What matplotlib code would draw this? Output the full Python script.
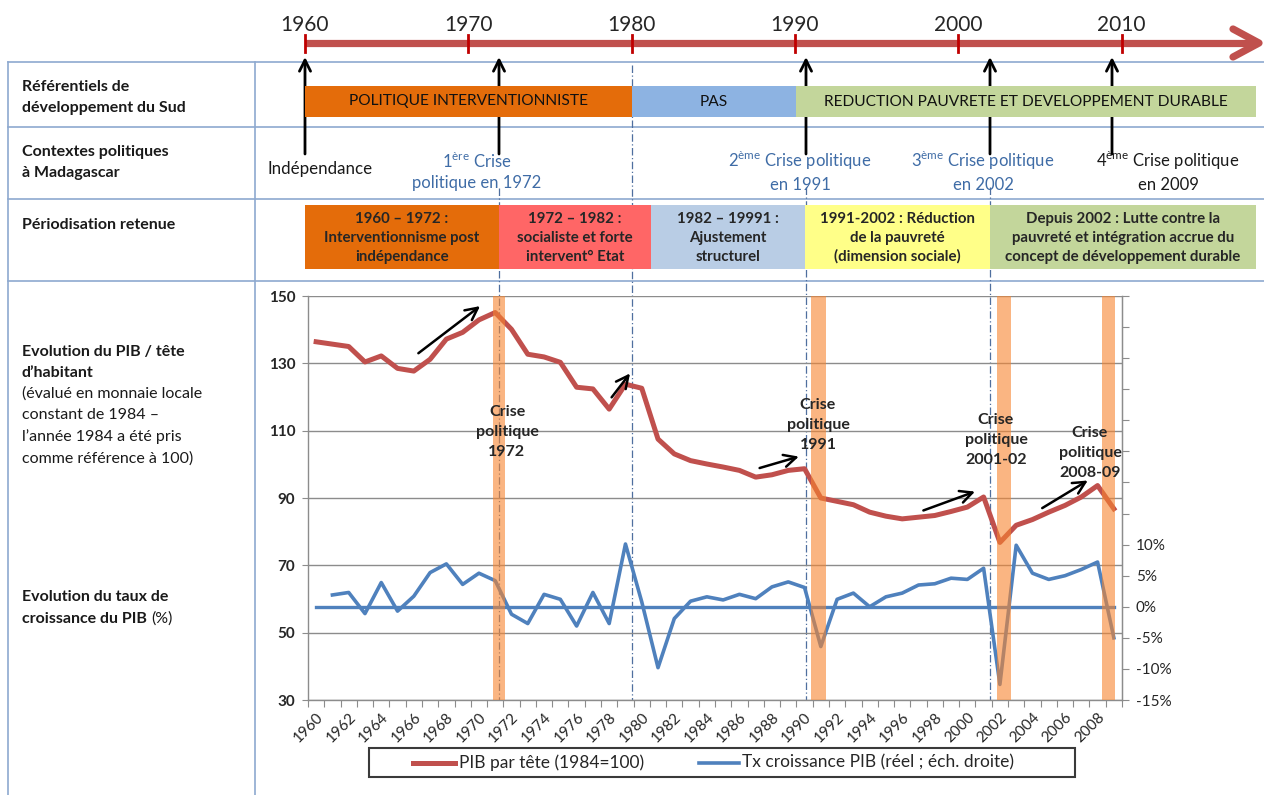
import numpy as np
import matplotlib
matplotlib.use('Agg')
import matplotlib.pyplot as plt
from matplotlib.patches import Rectangle
from matplotlib.ticker import FixedLocator, FuncFormatter, NullFormatter

plt.rcParams['font.family'] = ['Lato', 'DejaVu Sans']

# ---------------- data ----------------
years = list(range(1960, 2010))
pib_par_tete = [136.4, 135.7, 135.0, 130.4, 132.2, 128.5, 127.7, 131.2, 137.2, 139.2,
                142.9, 145.1, 140.1, 132.7, 131.9, 130.3, 122.9, 122.4, 116.4, 123.8,
                122.6, 107.5, 103.1, 101.1, 100.1, 99.2, 98.2, 96.2, 96.9, 98.2,
                98.7, 90.0, 89.0, 88.0, 85.8, 84.6, 83.8, 84.3, 84.8, 86.0,
                87.3, 90.3, 76.8, 81.9, 83.6, 85.8, 87.8, 90.3, 93.7, 86.8]
croissance = [np.nan, 1.9, 2.3, -1.1, 3.9, -0.7, 1.7, 5.5, 6.9, 3.6,
              5.4, 4.2, -1.2, -2.7, 2.0, 1.2, -3.1, 2.3, -2.7, 10.1,
              0.8, -9.8, -1.9, 0.9, 1.6, 1.1, 2.0, 1.3, 3.2, 4.0,
              3.1, -6.4, 1.2, 2.2, 0.0, 1.6, 2.2, 3.5, 3.7, 4.6,
              4.4, 6.2, -12.5, 9.9, 5.4, 4.4, 5.0, 6.0, 7.2, -5.0]
zero_line = [0.0] * len(years)

timeline_years = [1960, 1970, 1980, 1990, 2000, 2010]
crise_spans = [(1970.85, 1971.6), (1990.37, 1991.3), (2001.8, 2002.7), (2008.3, 2009.1)]
crise_labels = ["Crise\npolitique\n1972", "Crise\npolitique\n1991",
                "Crise\npolitique\n2001-02", "Crise\npolitique\n2008-09"]

referentiels = ["POLITIQUE INTERVENTIONNISTE", "PAS",
                "REDUCTION PAUVRETE ET DEVELOPPEMENT DURABLE"]
periodes = ["1960 – 1972 :\nInterventionnisme post\nindépendance",
            "1972 – 1982 :\nsocialiste et forte\nintervent° Etat",
            "1982 – 19991 :\nAjustement\nstructurel",
            "1991-2002 : Réduction\nde la pauvreté\n(dimension sociale)",
            "Depuis 2002 : Lutte contre la\npauvreté et intégration accrue du\nconcept de développement durable"]

W, H = 1264, 795
fig = plt.figure(figsize=(W / 100, H / 100), dpi=100)
bg = fig.add_axes([0, 0, 1, 1])
bg.set_xlim(0, W)
bg.set_ylim(H, 0)
bg.axis('off')

def tl(y):
    return 305 + (y - 1960) * 16.33

RED = '#C0504D'
BLUE = '#4F81BD'
TXT = '#1A1A1A'
LINEC = '#8EA9CF'
CBLUE = '#3F6CA6'

# ---------------- timeline ----------------
bg.plot([tl(1960), 1258], [43, 43], color=RED, lw=5.2, solid_capstyle='butt', zorder=2)
bg.plot([1233, 1259, 1233], [29, 43, 57], color=RED, lw=5.2,
        solid_capstyle='round', solid_joinstyle='round', zorder=2)
for y in timeline_years:
    bg.plot([tl(y), tl(y)], [35, 52], color='#C00000', lw=2, zorder=3)
    bg.text(tl(y), 25, str(y), ha='center', va='center', fontsize=15, color='#262626')

# ---------------- table lines ----------------
for yy in [62, 127, 199, 281]:
    bg.plot([8, W], [yy, yy], color=LINEC, lw=1.2, zorder=1)
for xx in [8, 255]:
    bg.plot([xx, xx], [62, H], color=LINEC, lw=1.2, zorder=1)

# left column (one text per line)
left_lines = [
    ("Référentiels de", 87, 'bold'), ("développement du Sud", 108, 'bold'),
    ("Contextes politiques", 152, 'bold'), ("à Madagascar", 173, 'bold'),
    ("Périodisation retenue", 225, 'bold'),
    ("Evolution du PIB / tête", 352, 'bold'), ("d’habitant", 373, 'bold'),
    ("(évalué en monnaie locale", 394, 'normal'), ("constant de 1984 –", 415, 'normal'),
    ("l’année 1984 a été pris", 437, 'normal'), ("comme référence à 100)", 459, 'normal'),
    ("Evolution du taux de", 597, 'bold'),
]
for s, yy, wt in left_lines:
    bg.text(22, yy, s, ha='left', va='center', fontsize=11.5, fontweight=wt, color=TXT)
t2 = bg.text(22, 619, "croissance du PIB ", ha='left', va='center',
             fontsize=11.5, fontweight='bold', color=TXT)
bg.annotate("(%)", xy=(1, 0.5), xycoords=t2, ha='left', va='center',
            fontsize=11.5, color=TXT)

# dashed vertical guides
for xx, y0 in [(499, 188), (632, 65), (806, 187), (990, 187)]:
    bg.plot([xx, xx], [y0, 700], color='#4F6F9F', lw=0.9,
            ls=(0, (6, 2, 1, 2)), zorder=1)

# up arrows
for xx in [305, 499, 806, 990, 1112]:
    bg.annotate('', xy=(xx, 57), xytext=(xx, 154),
                arrowprops=dict(arrowstyle='->', lw=2, color='black',
                                mutation_scale=20, shrinkA=0, shrinkB=0), zorder=2)

# row 1 bands
row1 = [(305, 632, '#E46C0A'), (632, 796, '#8DB3E2'), (796, 1256, '#C3D69B')]
for (x0, x1, c), lab in zip(row1, referentiels):
    bg.add_patch(Rectangle((x0, 86), x1 - x0, 31, facecolor=c, edgecolor='none', zorder=4))
    bg.text((x0 + x1) / 2, 101.5, lab, ha='center', va='center', fontsize=11.2,
            color='#111111', zorder=5)

# row 2 texts
bg.text(320, 169, "Indépendance", ha='center', va='center', fontsize=12.2, color=TXT)
bg.text(477, 171, "1$^{\\mathregular{ère}}$ Crise\npolitique en 1972", ha='center', va='center',
        fontsize=12, color=CBLUE, linespacing=1.35, multialignment='center')
bg.text(800, 171, "2$^{\\mathregular{ème}}$ Crise politique\nen 1991", ha='center', va='center',
        fontsize=12, color=CBLUE, linespacing=1.35, multialignment='center')
bg.text(983, 171, "3$^{\\mathregular{ème}}$ Crise politique\nen 2002", ha='center', va='center',
        fontsize=12, color=CBLUE, linespacing=1.35, multialignment='center')
bg.text(1168, 171, "4$^{\\mathregular{ème}}$ Crise politique\nen 2009", ha='center', va='center',
        fontsize=12, color=TXT, linespacing=1.35, multialignment='center')

# row 3 bands
row3 = [(305, 499, '#E46C0A'), (499, 651, '#FF6666'), (651, 805, '#B9CDE5'),
        (805, 990, '#FFFF88'), (990, 1256, '#C3D69B')]
for (x0, x1, c), lab in zip(row3, periodes):
    bg.add_patch(Rectangle((x0, 205), x1 - x0, 64, facecolor=c, edgecolor='none', zorder=4))
    bg.text((x0 + x1) / 2, 238, lab, ha='center', va='center', fontsize=10.8,
            fontweight='bold', color='#262626', linespacing=1.42, zorder=5,
            multialignment='center')

# ---------------- chart ----------------
ax = fig.add_axes([308 / W, 1 - 700 / H, (1122 - 308) / W, (700 - 296) / H])
ax.set_facecolor('none')
x = np.arange(len(years))
ax.plot(x, pib_par_tete, color=RED, lw=3.6, solid_joinstyle='round', zorder=3)
ax.set_xlim(-0.5, len(years) - 0.5)
ax.set_ylim(30, 150)
ax.set_yticks(np.arange(30, 151, 20))
ax.yaxis.grid(True, color='#8C8C8C', lw=1)
ax.set_axisbelow(True)
ax.spines['top'].set_visible(False)
for s in ['left', 'bottom', 'right']:
    ax.spines[s].set_color('#8C8C8C')
    ax.spines[s].set_linewidth(1)
ax.tick_params(axis='y', direction='out', length=4, color='#8C8C8C', pad=5,
               labelsize=11, labelcolor='#262626')
for lbl in ax.get_yticklabels():
    lbl.set_fontweight('bold')

ax.xaxis.set_major_locator(FixedLocator(np.arange(-0.5, len(years), 1)))
ax.xaxis.set_major_formatter(NullFormatter())
ax.xaxis.set_minor_locator(FixedLocator(x[::2]))
ax.xaxis.set_minor_formatter(FuncFormatter(lambda v, p: str(years[int(round(v))])))
ax.tick_params(axis='x', which='major', direction='out', length=5, color='#8C8C8C')
ax.tick_params(axis='x', which='minor', length=0, pad=7, labelsize=11,
               labelcolor='#262626')
for lbl in ax.get_xticklabels(minor=True):
    lbl.set_rotation(45)
    lbl.set_ha('right')
    lbl.set_rotation_mode('anchor')

ax2 = ax.twinx()
ax2.plot(x, zero_line, color=BLUE, lw=2.4, zorder=2)
ax2.plot(x, croissance, color=BLUE, lw=2.6, solid_joinstyle='round', zorder=3)
ax2.set_ylim(-15, 50)
ax2.set_yticks(np.arange(-15, 51, 5))
ax2.yaxis.set_major_formatter(FuncFormatter(lambda v, p: f"{int(round(v))}%" if v <= 10 else ""))
for s in ['top', 'left', 'bottom']:
    ax2.spines[s].set_visible(False)
ax2.spines['right'].set_color('#8C8C8C')
ax2.tick_params(axis='y', direction='out', length=5, color='#8C8C8C', pad=5,
                labelsize=11, labelcolor='#262626')

for (a, b) in crise_spans:
    ax2.axvspan(a - 1960, b - 1960, facecolor='#F7852F', alpha=0.6, edgecolor='none', zorder=5)

for (px, py), lab in zip([(507, 432), (818, 425), (996, 440), (1090, 453)], crise_labels):
    ax2.text(px, py, lab, transform=bg.transData, ha='center', va='center', fontsize=11.5,
             fontweight='bold', color='#262626', linespacing=1.55, zorder=7)

arrows = [((6.28, 133.0), (10.07, 147.0)), ((18.15, 119.9), (19.28, 127.0)),
          ((27.24, 98.9), (29.65, 102.3)), ((37.3, 86.3), (40.47, 91.9)),
          ((44.6, 87.0), (47.4, 95.2))]
for (p0, p1) in arrows:
    ax2.annotate('', xy=p1, xytext=p0, xycoords=ax.transData, textcoords=ax.transData,
                 arrowprops=dict(arrowstyle='->', lw=1.8, color='black', mutation_scale=22,
                                 shrinkA=0, shrinkB=0), zorder=8)

# ---------------- legend ----------------
bg.add_patch(Rectangle((369, 748), 706, 29, fill=False, edgecolor='#3A3A3A', lw=1.5, zorder=5))
bg.plot([413, 455], [762.5, 762.5], color=RED, lw=3.6, zorder=6)
bg.text(459, 762.5, "PIB par tête (1984=100)", ha='left', va='center', fontsize=12.5,
        color='#262626', zorder=6)
bg.plot([699, 739], [762.5, 762.5], color=BLUE, lw=2.6, zorder=6)
bg.text(742, 762.5, "Tx croissance PIB (réel ; éch. droite)", ha='left', va='center',
        fontsize=12.5, color='#262626', zorder=6)

fig.savefig('out.png', dpi=100)
